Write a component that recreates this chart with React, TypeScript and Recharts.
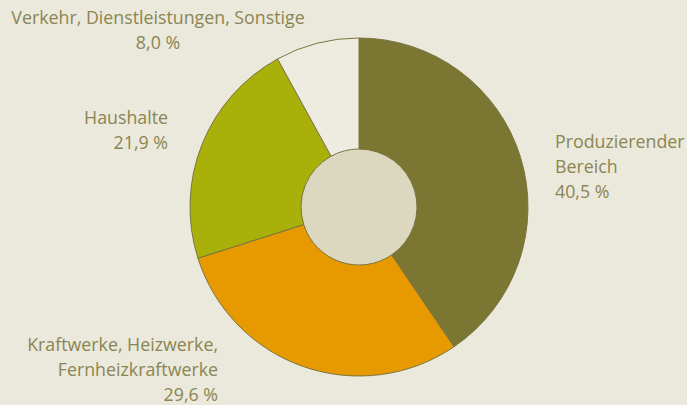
import { PieChart, Pie, Cell } from "recharts";

// ── Data ─────────────────────────────────────────────────────────────────────

const sectors = ["Produzierender Bereich", "Kraftwerke, Heizwerke, Fernheizkraftwerke", "Haushalte", "Verkehr, Dienstleistungen, Sonstige"];
const shares = [40.5, 29.6, 21.9, 8.0];
const colors = ["#7b7632", "#e69a00", "#aab00a", "#eeece0"];

const data = sectors.map((name, i) => ({ name, value: shares[i] }));
const hub = [{ name: "hub", value: 1 }];

const fmt = (v: number) => v.toFixed(1).replace(".", ",") + " %";

// label blocks: lines of text + where they sit
const labels = [
  { lines: ["Produzierender", "Bereich", fmt(shares[0])], x: 555, y: 129, align: "left" as const },
  { lines: ["Kraftwerke, Heizwerke,", "Fernheizkraftwerke", fmt(shares[1])], x: 218, y: 332, align: "right" as const },
  { lines: ["Haushalte", fmt(shares[2])], x: 168, y: 105, align: "right" as const },
  { lines: ["Verkehr, Dienstleistungen, Sonstige", fmt(shares[3])], x: 158, y: 5, align: "center" as const },
];

const W = 687;
const H = 405;

export default function App() {
  return (
    <div
      style={{
        position: "fixed",
        left: 0,
        top: 0,
        width: W,
        height: H,
        background: "#ebe9dc",
        fontFamily: "'Open Sans', sans-serif",
        color: "#8a8552",
        overflow: "hidden",
      }}
    >
      <PieChart width={W} height={H} margin={{ top: 0, right: 0, bottom: 0, left: 0 }}>
        <Pie
          data={hub}
          dataKey="value"
          cx={359}
          cy={207}
          outerRadius={58}
          stroke="none"
          fill="#dcd8c0"
          isAnimationActive={false}
        />
        <Pie
          data={data}
          dataKey="value"
          cx={359}
          cy={207}
          outerRadius={169}
          innerRadius={58}
          startAngle={90}
          endAngle={-270}
          stroke="#7a7540"
          strokeWidth={1}
          isAnimationActive={false}
        >
          {data.map((d, i) => (
            <Cell key={d.name} fill={colors[i]} />
          ))}
        </Pie>
      </PieChart>

      {labels.map((l, i) => (
        <div
          key={i}
          style={{
            position: "absolute",
            top: l.y,
            left: l.align === "left" ? l.x : undefined,
            right: l.align === "right" ? W - l.x : undefined,
            ...(l.align === "center" ? { left: l.x, transform: "translateX(-50%)" } : {}),
            textAlign: l.align,
            fontSize: 17.8,
            lineHeight: "24.8px",
            whiteSpace: "nowrap",
          }}
        >
          {l.lines.map((t) => (
            <div key={t}>{t}</div>
          ))}
        </div>
      ))}
    </div>
  );
}
